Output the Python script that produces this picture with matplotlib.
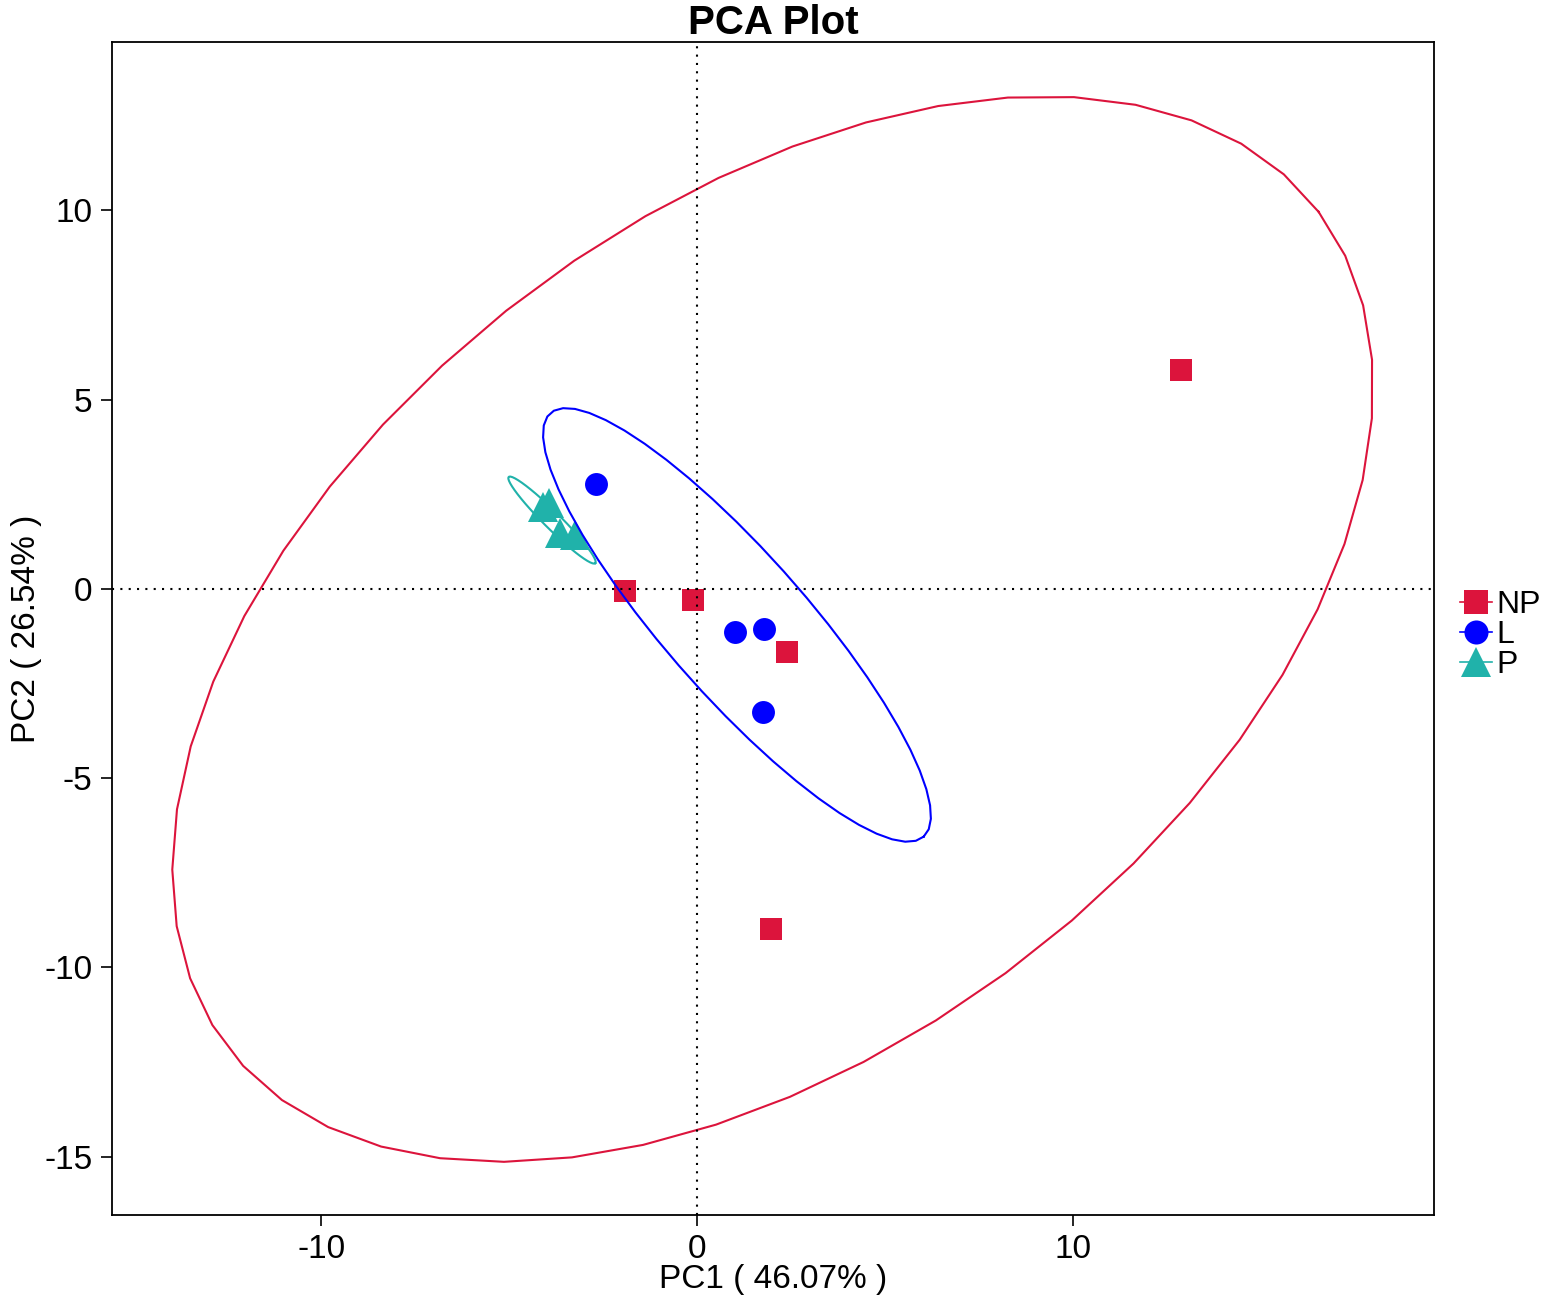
import numpy as np
import matplotlib
matplotlib.use("Agg")
import matplotlib.pyplot as plt
from matplotlib.lines import Line2D

plt.rcParams['font.family'] = ['Liberation Sans', 'DejaVu Sans']
plt.rcParams['axes.unicode_minus'] = False

# sample scores on PC1 / PC2
np_x = [12.87, -1.91, -0.11, 2.39, 1.97]
np_y = [5.79, -0.05, -0.29, -1.66, -8.98]
l_x = [-2.69, 1.01, 1.78, 1.76]
l_y = [2.77, -1.14, -1.06, -3.25]
p_x = [-4.10, -3.94, -3.64, -3.24]
p_y = [2.17, 2.27, 1.48, 1.43]

groups = ['NP', 'L', 'P']
colors = {'NP': '#DC143C', 'L': '#0000FF', 'P': '#20B2AA'}
markers = {'NP': 's', 'L': 'o', 'P': '^'}
msizes = {'NP': 16.5, 'L': 16.5, 'P': 21}

# confidence ellipses: centre x, centre y, semi-major, semi-minor, angle (deg)
ell_cx = [2.01, 1.06, -3.86]
ell_cy = [-1.06, -0.95, 1.82]
ell_a = [18.23, 7.48, 1.62]
ell_b = [10.99, 1.87, 0.22]
ell_ang = [37.2, -48.4, -44.7]

xlab = 'PC1 ( 46.07% )'
ylab = 'PC2 ( 26.54% )'


def ellipse_path(cx, cy, a, b, ang, n=52):
    t = np.linspace(0, 2 * np.pi, n)
    th = np.deg2rad(ang)
    ex = a * np.cos(t)
    ey = b * np.sin(t)
    return (cx + ex * np.cos(th) - ey * np.sin(th),
            cy + ex * np.sin(th) + ey * np.cos(th))


fig = plt.figure(figsize=(15.48, 13.09), dpi=100)
ax = fig.add_axes([0.0724, 0.0718, 0.854, 0.8961])

data = {'NP': (np_x, np_y), 'L': (l_x, l_y), 'P': (p_x, p_y)}
for g in groups:
    xs, ys = data[g]
    ax.plot(xs, ys, linestyle='none', marker=markers[g], markersize=msizes[g],
            color=colors[g], markeredgewidth=0, zorder=2)

for i, g in enumerate(groups):
    ex, ey = ellipse_path(ell_cx[i], ell_cy[i], ell_a[i], ell_b[i], ell_ang[i])
    ax.plot(ex, ey, color=colors[g], linewidth=1.5, zorder=3)

ax.axhline(0, color='black', linestyle=(0, (1, 3)), linewidth=1.5, zorder=4)
ax.axvline(0, color='black', linestyle=(0, (1, 3)), linewidth=1.5, zorder=4)

ax.set_xlim(-15.56, 19.6)
ax.set_ylim(-16.54, 14.45)
ax.set_xticks([-10, 0, 10])
ax.set_yticks([-15, -10, -5, 0, 5, 10])
ax.tick_params(labelsize=24, length=8, width=1.2, pad=6)
for s in ax.spines.values():
    s.set_linewidth(1.3)

ax.set_xlabel(xlab, fontsize=24, labelpad=-1)
ax.set_ylabel(ylab, fontsize=24, labelpad=2)
ax.set_title('PCA Plot', fontsize=29, fontweight='bold', pad=4)

handles = [Line2D([], [], color=colors[g], marker=markers[g],
                  markersize=msizes[g] * 1.05, linewidth=1.2, markeredgewidth=0)
           for g in groups]
fig.legend(handles, groups, loc='center left', bbox_to_anchor=(0.943, 0.515),
           frameon=False, fontsize=23, handlelength=1.0, handletextpad=0.15,
           labelspacing=0.0, borderpad=0, borderaxespad=0)

fig.savefig('out.png', dpi=100, facecolor='white')
